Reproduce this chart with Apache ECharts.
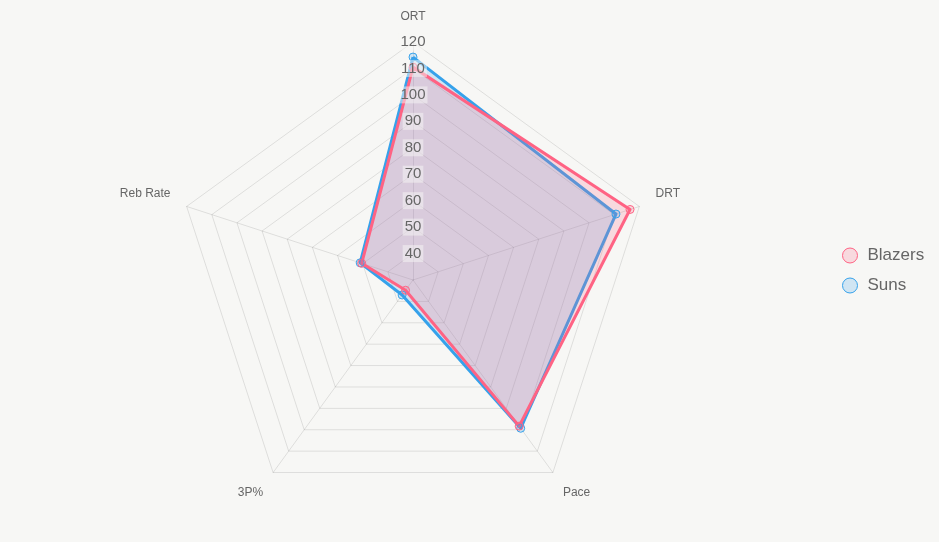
<!DOCTYPE html>
<html>
<head>
<meta charset="utf-8">
<script src="https://cdn.jsdelivr.net/npm/echarts@6/dist/echarts.min.js"></script>
<style>
html,body{margin:0;padding:0;background:#f7f7f5;}
#c{width:939px;height:542px;}
</style>
</head>
<body>
<div id="c"></div>
<script>
// listed in the counter-clockwise order ECharts draws radar axes (ORT at top, DRT to the right)
const categories = ['ORT', 'Reb Rate', '3P%', 'Pace', 'DRT'];
const blazers = [110.5, 50.4, 34.8, 98.3, 116.3];
const suns = [114.3, 51, 37, 99.3, 110.7];
const scaleMin = 30;
const scaleMax = 120;
const scaleStep = 10;

const chart = echarts.init(document.getElementById('c'));
const font = 'Liberation Sans, Arial, Helvetica, sans-serif';
const grid = 'rgba(0,0,0,0.1)';
const nameStyle = {color: '#666', fontSize: 12, fontFamily: font};
chart.setOption({
  backgroundColor: '#f7f7f5',
  animation: false,
  textStyle: {fontFamily: font},
  legend: {
    orient: 'vertical',
    left: 837,
    top: 242,
    itemWidth: 15,
    itemHeight: 15,
    itemGap: 13,
    icon: 'circle',
    textStyle: {color: '#666', fontSize: 17, fontFamily: font, padding: [0, 0, 0, 5]},
    data: [
      {name: 'Blazers', itemStyle: {color: 'rgba(255,99,132,0.2)', borderColor: '#ff6384', borderWidth: 1}},
      {name: 'Suns', itemStyle: {color: 'rgba(54,162,235,0.2)', borderColor: '#36a2eb', borderWidth: 1}}
    ]
  },
  radar: {
    center: [413, 280],
    radius: 238,
    startAngle: 90,
    shape: 'polygon',
    splitNumber: (scaleMax - scaleMin) / scaleStep,
    indicator: categories.map(n => ({name: n, min: scaleMin, max: scaleMax})),
    axisName: {
      ...nameStyle,
      formatter: function (name) {
        if (name === 'DRT' || name === 'Reb Rate') return '{side|' + name + '}';
        if (name === 'Pace' || name === '3P%') return '{bot|' + name + '}';
        return '{top|' + name + '}';
      },
      rich: {
        top: {...nameStyle, padding: [0, 0, 2, 0]},
        side: {...nameStyle, padding: [0, 0, 16, 0]},
        bot: {...nameStyle, padding: [12, 0, 0, 0]}
      }
    },
    nameGap: 17,
    axisLine: {lineStyle: {color: grid, width: 1}},
    splitLine: {lineStyle: {color: grid, width: 1}},
    splitArea: {show: false},
    axisTick: {show: false},
    axisLabel: {show: false}
  },
  polar: {center: [413, 280], radius: 238},
  angleAxis: {show: false, startAngle: 90, min: 0, max: 360},
  radiusAxis: {
    min: scaleMin, max: scaleMax, interval: scaleStep,
    z: 10,
    axisLine: {show: false},
    axisTick: {show: false},
    splitLine: {show: false},
    axisLabel: {
      show: true, showMinLabel: false, color: '#666', fontSize: 15, fontFamily: font,
      align: 'center', verticalAlign: 'middle', margin: 0,
      backgroundColor: 'rgba(247,247,245,0.5)', padding: [1, 2]
    }
  },
  series: [{
    type: 'radar',
    z: 3,
    symbol: 'circle',
    symbolSize: 8,
    data: [
      {
        name: 'Suns', value: suns,
        lineStyle: {color: '#36a2eb', width: 3},
        areaStyle: {color: 'rgba(54,162,235,0.2)', opacity: 1},
        itemStyle: {color: 'rgba(54,162,235,0.2)', borderColor: '#36a2eb', borderWidth: 1}
      },
      {
        name: 'Blazers', value: blazers,
        lineStyle: {color: '#ff6384', width: 3},
        areaStyle: {color: 'rgba(255,99,132,0.2)', opacity: 1},
        itemStyle: {color: 'rgba(255,99,132,0.2)', borderColor: '#ff6384', borderWidth: 1}
      }
    ]
  }]
});
</script>
</body>
</html>
